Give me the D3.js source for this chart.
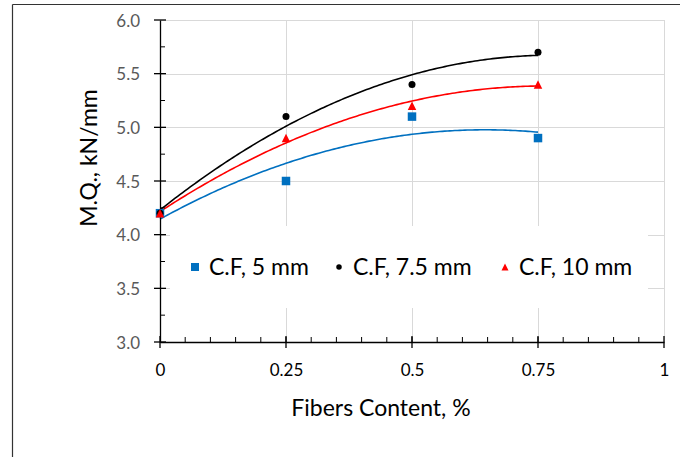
<!DOCTYPE html>
<html>
<head>
<meta charset="utf-8">
<script src="https://cdn.jsdelivr.net/npm/d3@7"></script>
<style>
  body { margin:0; background:#fff; }
  text { font-family: Lato, "Open Sans", sans-serif; }
</style>
</head>
<body>
<svg id="svg" width="680" height="457"></svg>
<script>
// data
var fiberContent = [0, 0.25, 0.5, 0.75];
var mq5mm  = [4.2, 4.5, 5.1, 4.9];
var mq75mm = [4.2, 5.1, 5.4, 5.7];
var mq10mm = [4.2, 4.9, 5.2, 5.4];
var seriesNames = ["C.F, 5 mm", "C.F, 7.5 mm", "C.F, 10 mm"];
var xTicks = [0, 0.25, 0.5, 0.75, 1];
var yTicks = [3.0, 3.5, 4.0, 4.5, 5.0, 5.5, 6.0];

var series = [
  { name: seriesNames[0], values: mq5mm,  color: "#0070C0", shape: "square" },
  { name: seriesNames[1], values: mq75mm, color: "#000000", shape: "circle" },
  { name: seriesNames[2], values: mq10mm, color: "#FF0000", shape: "triangle" }
];

var svg = d3.select("#svg");

// outer frame (only left & top edges visible)
svg.append("line").attr("x1", 12.5).attr("y1", 4.5).attr("x2", 680).attr("y2", 4.5)
  .style("stroke", "#333").style("stroke-width", 1.2);
svg.append("line").attr("x1", 12.5).attr("y1", 4.5).attr("x2", 12.5).attr("y2", 457)
  .style("stroke", "#333").style("stroke-width", 1.2);

var x = d3.scaleLinear().domain([0, 1]).range([160, 664]);
var y = d3.scaleLinear().domain([3, 6]).range([342, 20]);

// grid
var grid = svg.append("g");
grid.selectAll(".hg").data(yTicks.slice(1)).enter().append("line")
  .attr("x1", x(0)).attr("x2", x(1))
  .attr("y1", d => Math.round(y(d)) + 0.5).attr("y2", d => Math.round(y(d)) + 0.5)
  .style("stroke", "#D9D9D9").style("stroke-width", 1);
grid.selectAll(".vg").data(xTicks.slice(1)).enter().append("line")
  .attr("x1", d => Math.round(x(d)) + 0.5).attr("x2", d => Math.round(x(d)) + 0.5)
  .attr("y1", y(6)).attr("y2", y(3))
  .style("stroke", "#D9D9D9").style("stroke-width", 1);

// quadratic least-squares trendline (like the spreadsheet's poly order 2)
function polyFit2(xs, ys) {
  var n = xs.length, s = [0,0,0,0,0], t = [0,0,0];
  for (var i = 0; i < n; i++) {
    for (var k = 0; k < 5; k++) s[k] += Math.pow(xs[i], k);
    for (var k2 = 0; k2 < 3; k2++) t[k2] += ys[i] * Math.pow(xs[i], k2);
  }
  var A = [[s[0], s[1], s[2], t[0]], [s[1], s[2], s[3], t[1]], [s[2], s[3], s[4], t[2]]];
  for (var c = 0; c < 3; c++) {
    for (var r = c + 1; r < 3; r++) {
      var f = A[r][c] / A[c][c];
      for (var j = c; j < 4; j++) A[r][j] -= f * A[c][j];
    }
  }
  var coef = [0,0,0];
  for (var r2 = 2; r2 >= 0; r2--) {
    var v = A[r2][3];
    for (var j2 = r2 + 1; j2 < 3; j2++) v -= A[r2][j2] * coef[j2];
    coef[r2] = v / A[r2][r2];
  }
  return coef;
}

var line = d3.line().x(d => x(d[0])).y(d => y(d[1])).curve(d3.curveLinear);
var xs = d3.range(0, 0.7501, 0.005);

series.forEach(function(s) {
  var c = polyFit2(fiberContent, s.values);
  svg.append("path")
    .datum(xs.map(v => [v, c[0] + c[1]*v + c[2]*v*v]))
    .attr("d", line)
    .style("fill", "none").style("stroke", s.color).style("stroke-width", 1.6);
});

// axes
var xAxis = d3.axisBottom(x).tickValues(xTicks).tickSize(0).tickFormat(d => String(d));
var gx = svg.append("g").attr("transform", "translate(0," + y(3) + ")").call(xAxis);
gx.select(".domain").style("stroke", "#000").style("stroke-width", 1.3);
gx.selectAll("text").attr("dy", 0).attr("y", 34).style("font-size", "17px").style("fill", "#000");
gx.selectAll(".mt").data(xTicks).enter().append("line")
  .attr("x1", d => x(d)).attr("x2", d => x(d)).attr("y1", -6).attr("y2", 6)
  .style("stroke", "#000").style("stroke-width", 1.3);
gx.selectAll(".mn").data(d3.range(0.05, 1, 0.05)).enter().append("line")
  .attr("x1", d => x(d)).attr("x2", d => x(d)).attr("y1", -5).attr("y2", 0)
  .style("stroke", "#000").style("stroke-width", 1);

var yAxis = d3.axisLeft(y).tickValues(yTicks).tickSize(0).tickFormat(d3.format(".1f"));
var gy = svg.append("g").attr("transform", "translate(" + x(0) + ",0)").call(yAxis);
gy.select(".domain").style("stroke", "#000").style("stroke-width", 1.3);
gy.selectAll("text").attr("x", -20).attr("dy", "0.36em").style("font-size", "17px").style("fill", "#595959");
gy.selectAll(".mt").data(yTicks).enter().append("line")
  .attr("x1", -6).attr("x2", 6).attr("y1", d => y(d)).attr("y2", d => y(d))
  .style("stroke", "#000").style("stroke-width", 1.3);
gy.selectAll(".mn").data(d3.range(3.25, 6, 0.5)).enter().append("line")
  .attr("x1", 0).attr("x2", 5).attr("y1", d => y(d)).attr("y2", d => y(d))
  .style("stroke", "#000").style("stroke-width", 1);

// markers
function drawMarker(g, shape, color, cx, cy, size) {
  if (shape === "square") {
    g.append("rect").attr("x", cx - size/2).attr("y", cy - size/2)
      .attr("width", size).attr("height", size).style("fill", color);
  } else if (shape === "circle") {
    g.append("circle").attr("cx", cx).attr("cy", cy).attr("r", size/2).style("fill", color);
  } else {
    g.append("path").attr("d", "M" + cx + "," + (cy - size/2) + "L" + (cx + size/2) + "," + (cy + size/2)
      + "L" + (cx - size/2) + "," + (cy + size/2) + "Z").style("fill", color);
  }
}
var markG = svg.append("g");
series.forEach(function(s) {
  s.values.forEach(function(v, i) {
    drawMarker(markG, s.shape, s.color, x(fiberContent[i]), y(v), s.shape === "circle" ? 7 : 8.5);
  });
});

// legend
var leg = svg.append("g");
leg.append("rect").attr("x", 170).attr("y", 226).attr("width", 478).attr("height", 82).style("fill", "#fff");
var legX = [195, 339, 505];
series.forEach(function(s, i) {
  drawMarker(leg, s.shape, s.color, legX[i], 267, s.shape === "square" ? 8 : (s.shape === "circle" ? 5.5 : 7));
  leg.append("text").attr("x", legX[i] + 14).attr("y", 267).attr("dy", "0.36em")
    .style("font-size", "23px").style("fill", "#000").text(s.name);
});

// axis titles
svg.append("text").attr("x", 381).attr("y", 416).attr("text-anchor", "middle")
  .style("font-size", "23px").style("fill", "#000").text("Fibers Content, %");
svg.append("text").attr("transform", "translate(97,158) rotate(-90)").attr("text-anchor", "middle")
  .style("font-size", "23px").style("fill", "#000").text("M.Q., kN/mm");
</script>
</body>
</html>
